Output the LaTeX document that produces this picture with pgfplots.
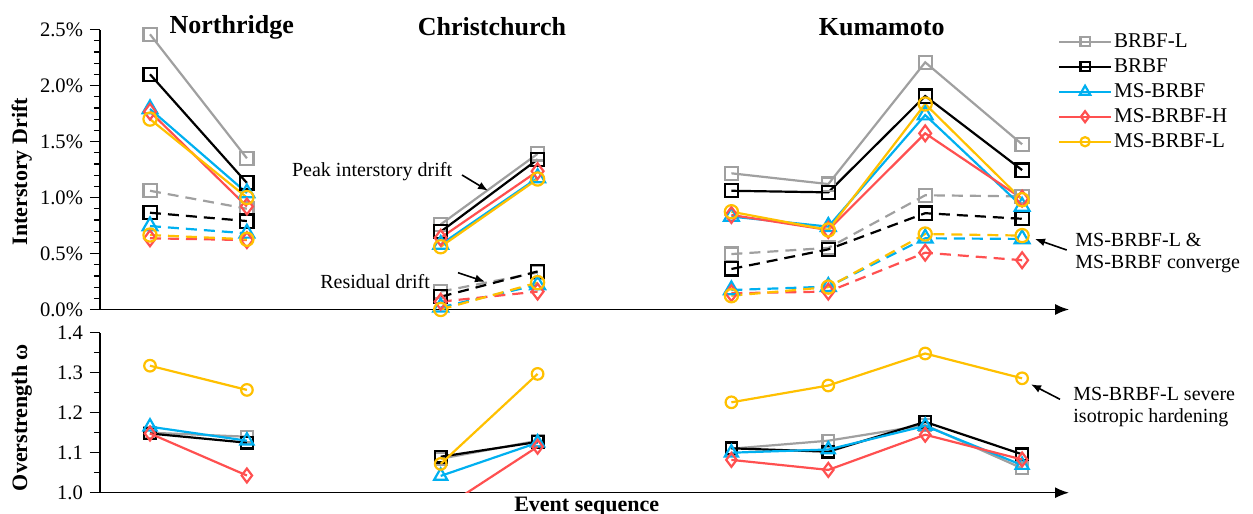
\documentclass[border=0pt]{standalone}
\usepackage{pgfplots}
\pgfplotsset{compat=1.18}
\usepackage{fontspec}
\setmainfont{Liberation Serif}
\usetikzlibrary{arrows.meta}
\definecolor{cgray}{RGB}{160,160,160}
\definecolor{ccyan}{RGB}{0,176,240}
\definecolor{cred}{RGB}{255,80,80}
\definecolor{cyel}{RGB}{255,192,0}

\pgfplotsset{
  base/.style={
    scale only axis, width=484.5pt,
    xmin=-0.516, xmax=9.484,
    axis x line=bottom, axis y line=left,
    x axis line style={-{Latex[length=7pt,width=5.5pt]}, line width=0.7pt},
    y axis line style={-, line width=0.7pt},
    xtick=\empty,
    tick align=outside,
    tick style={black, line width=0.6pt},
    major tick length=5pt, minor tick length=3pt,
    unbounded coords=jump,
    /pgf/number format/assume math mode=true,
    tick label style={font=\fontsize{10.3}{12}\selectfont},
    every axis plot/.append style={line width=1.1pt},
  },
  dsh/.style={dash pattern=on 5.5pt off 3.5pt},
  sBRBFL/.style={color=cgray, mark=square, mark options={solid, fill=white}},
  sBRBF/.style={color=black, mark=square, mark options={solid, fill=white}},
  sMS/.style={color=ccyan, mark=triangle, mark options={solid, fill=white, scale=1.3}},
  sMSH/.style={color=cred, mark=diamond, mark options={solid, fill=white, scale=1.2}},
  sMSL/.style={color=cyel, mark=o, mark options={solid, fill=white}},
}

\begin{document}
\begin{tikzpicture}
\path[use as bounding box] (0,0) rectangle (626.5pt,-257pt);

% ---------------- top panel ----------------
\begin{axis}[base,
  at={(50pt,-154.75pt)}, anchor=south west,
  height=140pt,
  ymin=0, ymax=2.5,
  ytick={0,0.5,...,2.5},
  minor y tick num=4,
  yticklabel={\pgfmathprintnumber[fixed,fixed zerofill,precision=1]{\tick}\%},
  mark size=3.3pt,
  legend style={at={(rel axis cs:0.9886,1.001)}, anchor=north west,
    draw=none, fill=none, inner sep=0pt, outer sep=0pt,
    row sep=0pt, font=\fontsize{10.5}{12}\selectfont,
    nodes={inner sep=1pt, text height=8pt, text depth=2.5pt},
    legend cell align=left},
  legend image code/.code={\draw[mark repeat=2,mark phase=2,mark size=2.3pt]
     plot coordinates {(0pt,0pt)(13pt,0pt)(26pt,0pt)};},
]
% residual drift (dashed)
\addplot[sBRBFL,dsh,forget plot] coordinates {(0,1.06)(1,0.90)(2,nan)(3,0.16)(4,0.33)(5,nan)(6,0.495)(7,0.55)(8,1.02)(9,1.01)};
\addplot[sBRBF,dsh,forget plot] coordinates {(0,0.864)(1,0.79)(2,nan)(3,0.114)(4,0.34)(5,nan)(6,0.362)(7,0.537)(8,0.86)(9,0.81)};
\addplot[sMS,dsh,forget plot] coordinates {(0,0.745)(1,0.68)(2,nan)(3,0.02)(4,0.22)(5,nan)(6,0.174)(7,0.204)(8,0.636)(9,0.63)};
\addplot[sMSH,dsh,forget plot] coordinates {(0,0.636)(1,0.62)(2,nan)(3,0.07)(4,0.16)(5,nan)(6,0.145)(7,0.16)(8,0.507)(9,0.44)};
\addplot[sMSL,dsh,forget plot] coordinates {(0,0.665)(1,0.627)(2,nan)(3,0.0)(4,0.24)(5,nan)(6,0.123)(7,0.20)(8,0.674)(9,0.66)};
% peak drift (solid)
\addplot[sBRBFL] coordinates {(0,2.457)(1,1.35)(2,nan)(3,0.76)(4,1.39)(5,nan)(6,1.216)(7,1.12)(8,2.207)(9,1.475)};
\addlegendentry{BRBF-L}
\addplot[sBRBF] coordinates {(0,2.10)(1,1.13)(2,nan)(3,0.695)(4,1.34)(5,nan)(6,1.06)(7,1.046)(8,1.906)(9,1.245)};
\addlegendentry{BRBF}
\addplot[sMS] coordinates {(0,1.79)(1,1.04)(2,nan)(3,0.58)(4,1.175)(5,nan)(6,0.83)(7,0.74)(8,1.736)(9,0.92)};
\addlegendentry{MS-BRBF}
\addplot[sMSH] coordinates {(0,1.766)(1,0.92)(2,nan)(3,0.64)(4,1.235)(5,nan)(6,0.844)(7,0.71)(8,1.573)(9,0.99)};
\addlegendentry{MS-BRBF-H}
\addplot[sMSL] coordinates {(0,1.70)(1,1.00)(2,nan)(3,0.56)(4,1.165)(5,nan)(6,0.873)(7,0.71)(8,1.835)(9,0.98)};
\addlegendentry{MS-BRBF-L}
\end{axis}

% ---------------- bottom panel ----------------
\begin{axis}[base,
  at={(50pt,-246.35pt)}, anchor=south west,
  height=80pt,
  ymin=1.0, ymax=1.4,
  ytick={1.0,1.1,...,1.4},
  minor y tick num=1,
  yticklabel style={/pgf/number format/.cd,fixed,fixed zerofill,precision=1},
  mark size=2.9pt,
  clip marker paths=true,
]
\addplot[sBRBFL] coordinates {(0,1.15)(1,1.14)(2,nan)(3,1.085)(4,1.13)(5,nan)(6,1.11)(7,1.13)(8,1.169)(9,1.061)};
\addplot[sBRBF] coordinates {(0,1.148)(1,1.125)(2,nan)(3,1.09)(4,1.127)(5,nan)(6,1.111)(7,1.1025)(8,1.177)(9,1.096)};
\addplot[sMS] coordinates {(0,1.165)(1,1.13)(2,nan)(3,1.042)(4,1.125)(5,nan)(6,1.10)(7,1.108)(8,1.167)(9,1.069)};
\addplot[sMSH] coordinates {(0,1.148)(1,1.043)(2,nan)(3,0.957)(4,1.115)(5,nan)(6,1.082)(7,1.057)(8,1.145)(9,1.083)};
\addplot[sMSL] coordinates {(0,1.3175)(1,1.257)(2,nan)(3,1.072)(4,1.297)(5,nan)(6,1.226)(7,1.268)(8,1.348)(9,1.286)};
\end{axis}

% ---------------- texts and annotations ----------------
\begin{scope}[x=0.5pt,y=-0.5pt]
\node[font=\bfseries\fontsize{13}{15}\selectfont] at (231.7,27) {Northridge};
\node[font=\bfseries\fontsize{13}{15}\selectfont] at (492,27) {Christchurch};
\node[font=\bfseries\fontsize{13}{15}\selectfont] at (881.7,27) {Kumamoto};
\node[rotate=90,font=\bfseries\fontsize{11}{13}\selectfont] at (21.7,171.7) {Interstory Drift};
\node[rotate=90,font=\bfseries\fontsize{11}{13}\selectfont] at (22,417.5) {Overstrength ω};
\node[font=\bfseries\fontsize{11}{13}\selectfont] at (586.7,506.7) {Event sequence};

\node[anchor=west,inner sep=0pt,font=\fontsize{10}{11}\selectfont] at (291.7,171.7) {Peak interstory drift};
\draw[-{Latex[length=5pt,width=4pt]},line width=0.8pt] (462,175) -- (488,190.7);
\node[anchor=west,inner sep=0pt,font=\fontsize{10}{11}\selectfont] at (320,281.7) {Residual drift};
\draw[-{Latex[length=5pt,width=4pt]},line width=0.8pt] (458,272.7) -- (485,281.7);
\node[anchor=west,inner sep=0pt,align=left,font=\fontsize{10}{11}\selectfont] at (1075,253.5) {MS-BRBF-L \&\\MS-BRBF converge};
\draw[-{Latex[length=5pt,width=4pt]},line width=0.8pt] (1066.7,250) -- (1035,239);
\node[anchor=west,inner sep=0pt,align=left,font=\fontsize{10}{11}\selectfont] at (1073,407) {MS-BRBF-L severe\\isotropic hardening};
\draw[-{Latex[length=5pt,width=4pt]},line width=0.8pt] (1060,399.3) -- (1031,384.3);
\end{scope}
\end{tikzpicture}
\end{document}
